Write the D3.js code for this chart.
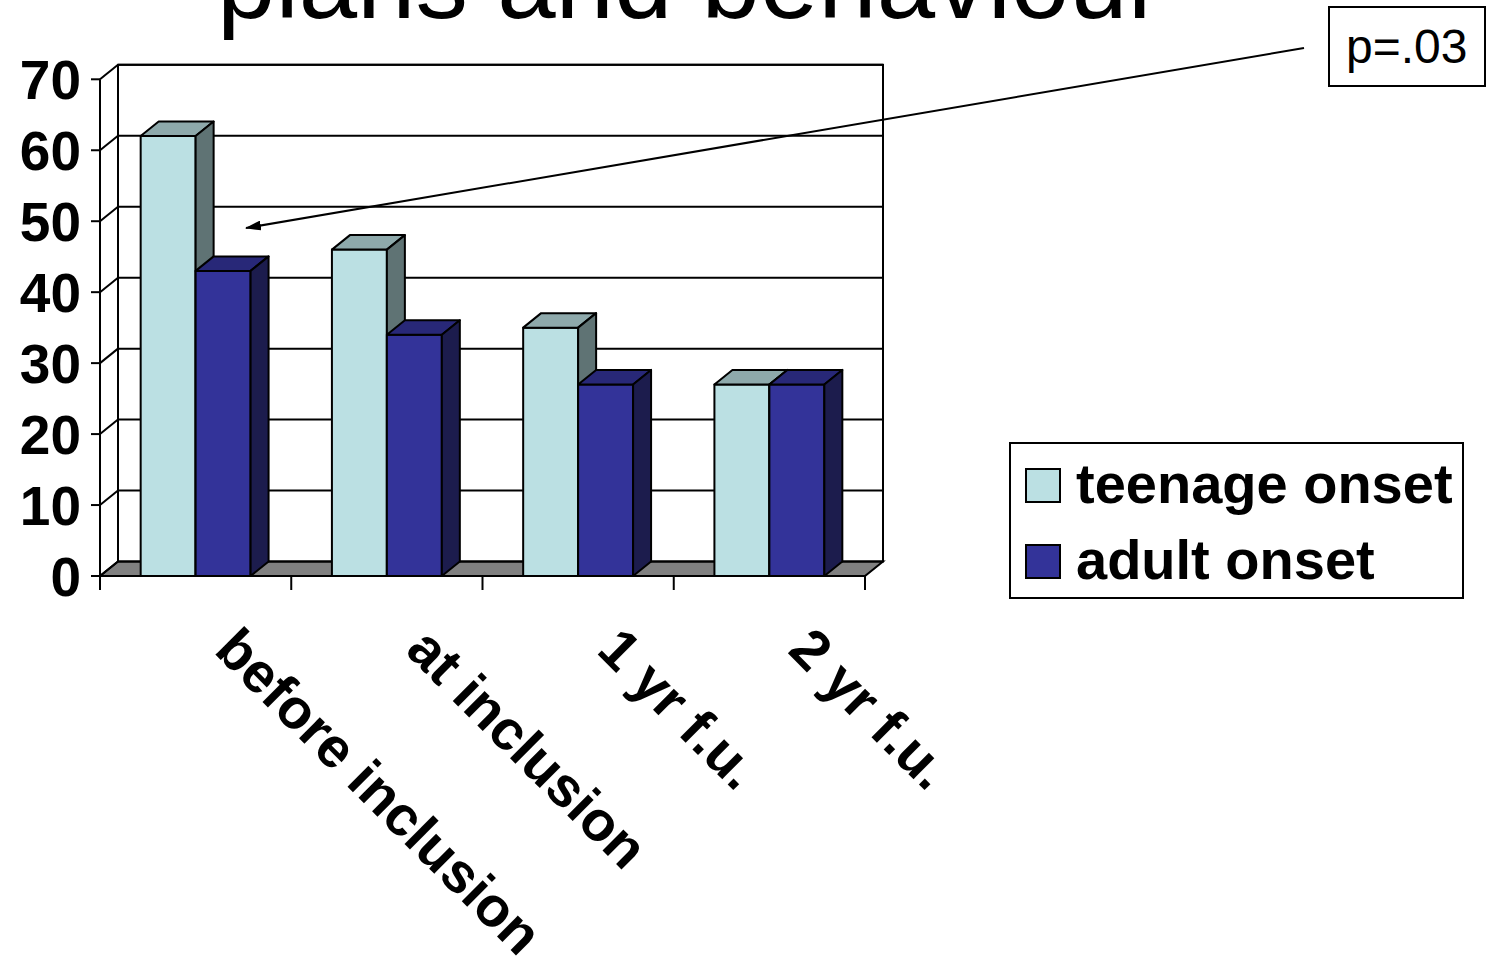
<!DOCTYPE html>
<html>
<head>
<meta charset="utf-8">
<script src="https://cdn.jsdelivr.net/npm/d3@7"></script>
<style>
  html, body { margin: 0; padding: 0; background: #ffffff; }
  svg { display: block; font-family: Arial, "Liberation Sans", Helvetica, sans-serif; }
</style>
</head>
<body>
<svg id="chart" width="1486" height="967"></svg>
<script>
// ---- data ----
const categories = ["before inclusion", "at inclusion", "1 yr f.u.", "2 yr f.u."];
const seriesNames = ["teenage onset", "adult onset"];
const teenageOnset = [62, 46, 35, 27];
const adultOnset = [43, 34, 27, 27];
const yTicks = [0, 10, 20, 30, 40, 50, 60, 70];
const titleText = "plans and behaviour";
const noteText = "p=.03";

// ---- colours (front, top, side) ----
const palette = {
  "teenage onset": { front: "#BBE0E3", top: "#8EA9AB", side: "#5F7374" },
  "adult onset":   { front: "#333399", top: "#282878", side: "#1C1C4D" }
};

const svg = d3.select("#chart");

// 3D depth offset of the plot box
const DX = 18, DY = -14.5;

const y = d3.scaleLinear().domain([0, 70]).range([576, 79.3]);
const x0 = d3.scaleBand().domain(categories).range([100, 865]);
const x1 = d3.scaleBand().domain(seriesNames).range([0, x0.bandwidth()])
  .paddingInner(0).paddingOuter(0.74);

const stroke = "#000";

// ---- slide title (runs past the top edge) ----
svg.append("text")
  .attr("x", 217).attr("y", 18)
  .attr("font-size", 105)
  .attr("fill", "#000")
  .text(titleText);

// ---- floor ----
const x0L = 100, x0R = 865, yF = y(0);
svg.append("path")
  .attr("d", `M${x0L},${yF}L${x0R},${yF}L${x0R + DX},${yF + DY}L${x0L + DX},${yF + DY}Z`)
  .attr("fill", "#808080").attr("stroke", stroke).attr("stroke-width", 2);

// ---- back wall ----
svg.append("rect")
  .attr("x", x0L + DX).attr("y", y(70) + DY)
  .attr("width", x0R - x0L).attr("height", y(0) - y(70))
  .attr("fill", "none").attr("stroke", stroke).attr("stroke-width", 2);

// gridlines on back wall and side wall
const grid = svg.append("g").attr("stroke", stroke).attr("stroke-width", 2).attr("fill", "none");
yTicks.forEach(v => {
  if (v > 0) {
    grid.append("line")
      .attr("x1", x0L + DX).attr("x2", x0R + DX)
      .attr("y1", y(v) + DY).attr("y2", y(v) + DY);
  }
  grid.append("line")
    .attr("x1", x0L).attr("y1", y(v))
    .attr("x2", x0L + DX).attr("y2", y(v) + DY);
});

// ---- front value axis ----
const axisG = svg.append("g");
axisG.append("line")
  .attr("x1", x0L).attr("x2", x0L).attr("y1", y(70)).attr("y2", y(0))
  .attr("stroke", stroke).attr("stroke-width", 2);
yTicks.forEach(v => {
  axisG.append("line")
    .attr("x1", x0L - 9).attr("x2", x0L).attr("y1", y(v)).attr("y2", y(v))
    .attr("stroke", stroke).attr("stroke-width", 2);
  axisG.append("text")
    .attr("x", 81).attr("y", y(v))
    .attr("dy", "0.36em")
    .attr("text-anchor", "end")
    .attr("font-size", 55).attr("font-weight", "bold")
    .text(v);
});

// ---- category axis ----
axisG.append("line")
  .attr("x1", x0L).attr("x2", x0R).attr("y1", yF).attr("y2", yF)
  .attr("stroke", stroke).attr("stroke-width", 2);
const tickXs = categories.map(c => x0(c)).concat([x0.range()[1]]);
tickXs.forEach(tx => {
  axisG.append("line")
    .attr("x1", tx).attr("x2", tx).attr("y1", yF).attr("y2", yF + 14)
    .attr("stroke", stroke).attr("stroke-width", 2);
});
categories.forEach(c => {
  const ax = x0(c) + x0.bandwidth() / 2 + 17;
  const ay = 652;
  axisG.append("text")
    .attr("transform", `translate(${ax},${ay}) rotate(45)`)
    .attr("font-size", 56).attr("font-weight", "bold")
    .text(c);
});

// ---- 3D bars ----
const bars = [];
categories.forEach((c, i) => {
  bars.push({ cat: c, series: "teenage onset", value: teenageOnset[i] });
  bars.push({ cat: c, series: "adult onset", value: adultOnset[i] });
});
const barG = svg.append("g").attr("stroke", stroke).attr("stroke-width", 2).attr("stroke-linejoin", "round");
bars.forEach(b => {
  const xl = x0(b.cat) + x1(b.series);
  const xr = xl + x1.bandwidth();
  const yt = y(b.value), yb = y(0);
  const col = palette[b.series];
  const g = barG.append("g");
  g.append("path") // front
    .attr("d", `M${xl},${yb}L${xl},${yt}L${xr},${yt}L${xr},${yb}Z`)
    .attr("fill", col.front);
  g.append("path") // top
    .attr("d", `M${xl},${yt}L${xl + DX},${yt + DY}L${xr + DX},${yt + DY}L${xr},${yt}Z`)
    .attr("fill", col.top);
  g.append("path") // side
    .attr("d", `M${xr},${yt}L${xr + DX},${yt + DY}L${xr + DX},${yb + DY}L${xr},${yb}Z`)
    .attr("fill", col.side);
});

// ---- annotation arrow and p-value box ----
const defs = svg.append("defs");
defs.append("marker")
  .attr("id", "arrowhead")
  .attr("viewBox", "0 0 16 10")
  .attr("refX", 15).attr("refY", 5)
  .attr("markerWidth", 16).attr("markerHeight", 10)
  .attr("markerUnits", "userSpaceOnUse")
  .attr("orient", "auto")
  .append("path").attr("d", "M0,0L16,5L0,10Z").attr("fill", "#000");

svg.append("line")
  .attr("x1", 1304).attr("y1", 48)
  .attr("x2", 246).attr("y2", 228)
  .attr("stroke", "#000").attr("stroke-width", 2)
  .attr("marker-end", "url(#arrowhead)");

svg.append("rect")
  .attr("x", 1329).attr("y", 7)
  .attr("width", 156).attr("height", 79)
  .attr("fill", "#fff").attr("stroke", "#000").attr("stroke-width", 2);
svg.append("text")
  .attr("x", 1346).attr("y", 63)
  .attr("font-size", 48)
  .text(noteText);

// ---- legend ----
const leg = svg.append("g");
leg.append("rect")
  .attr("x", 1010).attr("y", 443)
  .attr("width", 453).attr("height", 155)
  .attr("fill", "#fff").attr("stroke", "#000").attr("stroke-width", 2);
seriesNames.forEach((s, i) => {
  const yy = 469 + i * 76;
  leg.append("rect")
    .attr("x", 1026).attr("y", yy)
    .attr("width", 34).attr("height", 33)
    .attr("fill", palette[s].front).attr("stroke", "#000").attr("stroke-width", 2);
  leg.append("text")
    .attr("x", 1076).attr("y", yy + 34)
    .attr("font-size", 56).attr("font-weight", "bold")
    .text(s);
});
</script>
</body>
</html>
